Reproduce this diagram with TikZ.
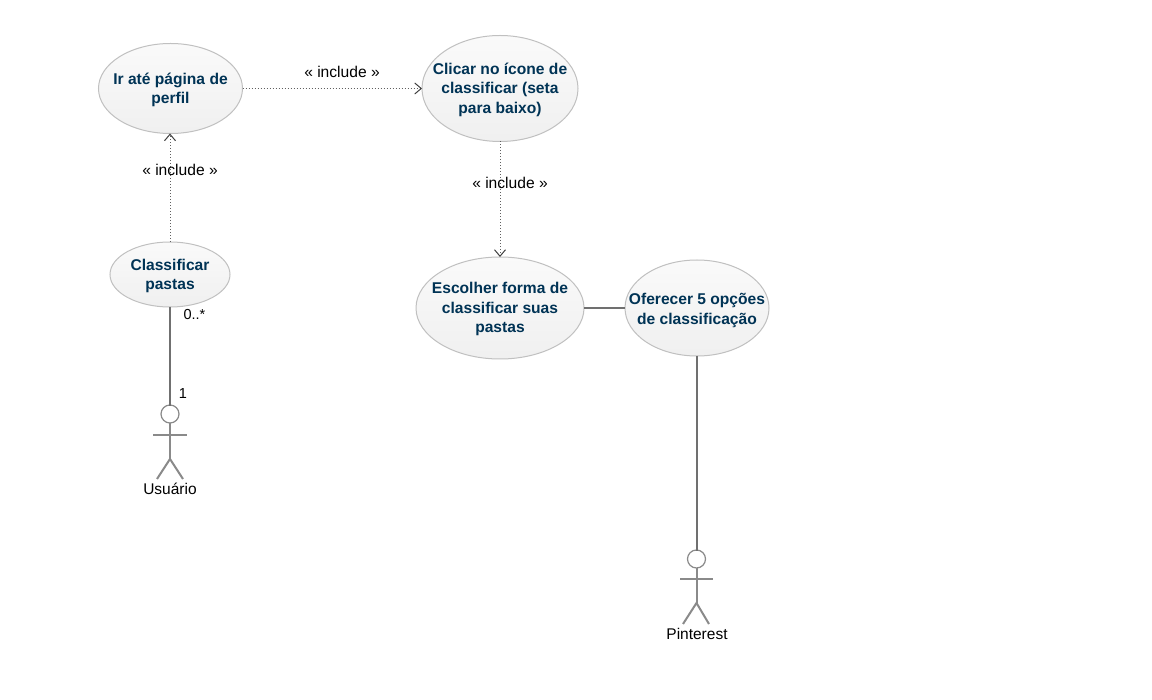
\documentclass[tikz,border=0pt]{standalone}
\usepackage{fontspec}
\setmainfont{Liberation Sans}
\usetikzlibrary{arrows.meta,shapes.geometric}
\definecolor{ucblue}{HTML}{003355}
\definecolor{ucedge}{HTML}{C0C0C0}
\definecolor{actorgrey}{HTML}{8A8A8A}
\definecolor{linegrey}{HTML}{707070}
\definecolor{dotgrey}{HTML}{606060}
\newcommand\ucup{\rule{0pt}{14pt}}
\newcommand\ucupb{\rule{0pt}{16pt}}
\tikzset{
  usecase/.style={ellipse,draw=ucedge,line width=1pt,top color=white!98!black,bottom color=black!6,inner sep=-30pt,outer sep=0pt,
    text=ucblue,align=center,font=\fontsize{15.6}{19.5}\selectfont\bfseries},
  assoc/.style={draw=linegrey,line width=2pt},
  incl/.style={draw=dotgrey,line width=1pt,dash pattern=on 1pt off 2pt,
    -{Straight Barb[length=6.5pt,width=11pt,line width=1pt,color=black!75]}},
  stereo/.style={font=\fontsize{15.6}{17}\selectfont,text=black,inner sep=0pt},
  mult/.style={font=\fontsize{14.5}{15}\selectfont,text=black,inner sep=0pt},
  actorlabel/.style={font=\fontsize{15.5}{17}\selectfont,text=black,inner sep=0pt},
  actorhead/.style={circle,draw=actorgrey,line width=1.2pt,fill=white,minimum size=18pt,inner sep=0pt,outer sep=0pt},
  actorline/.style={draw=actorgrey,line width=2pt},
}
\begin{document}
\begin{tikzpicture}[x=1pt,y=-1pt]
\useasboundingbox[fill=white] (0,0) rectangle (1152,700);

\node[usecase,minimum width=144pt,minimum height=90pt] (ir) at (170.5,88.5) {\ucup Ir até página de\\perfil};
\node[usecase,minimum width=156pt,minimum height=106pt] (clicar) at (500,88.5) {\ucup Clicar no ícone de\\classificar (seta\\para baixo)};
\node[usecase,minimum width=120pt,minimum height=65pt] (classif) at (170,274.5) {\ucup Classificar\\pastas};
\node[usecase,minimum width=168pt,minimum height=102pt] (escolher) at (500,308) {\ucup Escolher forma de\\classificar suas\\pastas};
\node[usecase,minimum width=144pt,minimum height=96pt] (oferecer) at (697,308) {\ucupb Oferecer 5 opções\\de classificação};

% Usuário actor
\node[actorhead] (h1) at (170,414) {};
\coordinate (hip1) at (170,459);
\coordinate (arml1) at (153,435);
\coordinate (armr1) at (187,435);
\coordinate (footl1) at (157,479);
\coordinate (footr1) at (183,479);
\draw[actorline] (h1.south) -- (hip1);
\draw[actorline] (arml1) -- (armr1);
\draw[actorline] (footl1) -- (hip1) -- (footr1);
\node[actorlabel] (u1) at (170,489) {Usuário};

% Pinterest actor
\node[actorhead] (h2) at (696.5,559) {};
\coordinate (hip2) at (696.5,603);
\coordinate (arml2) at (680,579);
\coordinate (armr2) at (713,579);
\coordinate (footl2) at (683,624);
\coordinate (footr2) at (709,624);
\draw[actorline] (h2.south) -- (hip2);
\draw[actorline] (arml2) -- (armr2);
\draw[actorline] (footl2) -- (hip2) -- (footr2);
\node[actorlabel] (u2) at (697,634) {Pinterest};

% connectors
\draw[incl] (ir.east) -- (clicar.west);
\draw[incl] (classif.north) -- (classif.north |- ir.south);
\draw[incl] (clicar.south) -- (escolher.north);
\draw[assoc] (classif.south) -- ([yshift=-1pt]h1.north);
\draw[assoc] (escolher.east) -- (oferecer.west);
\draw[assoc] (oferecer.south) -- ([xshift=.5pt,yshift=-1pt]h2.north);

% labels
\node[stereo] (l1) at (342,71.5) {« include »};
\node[stereo] (l2) at (180,170) {« include »};
\node[stereo] (l3) at (510,183) {« include »};
\node[mult] (m1) at (194.5,314.5) {0..*};
\node[mult] (m2) at (183,393.5) {1};
\end{tikzpicture}
\end{document}
